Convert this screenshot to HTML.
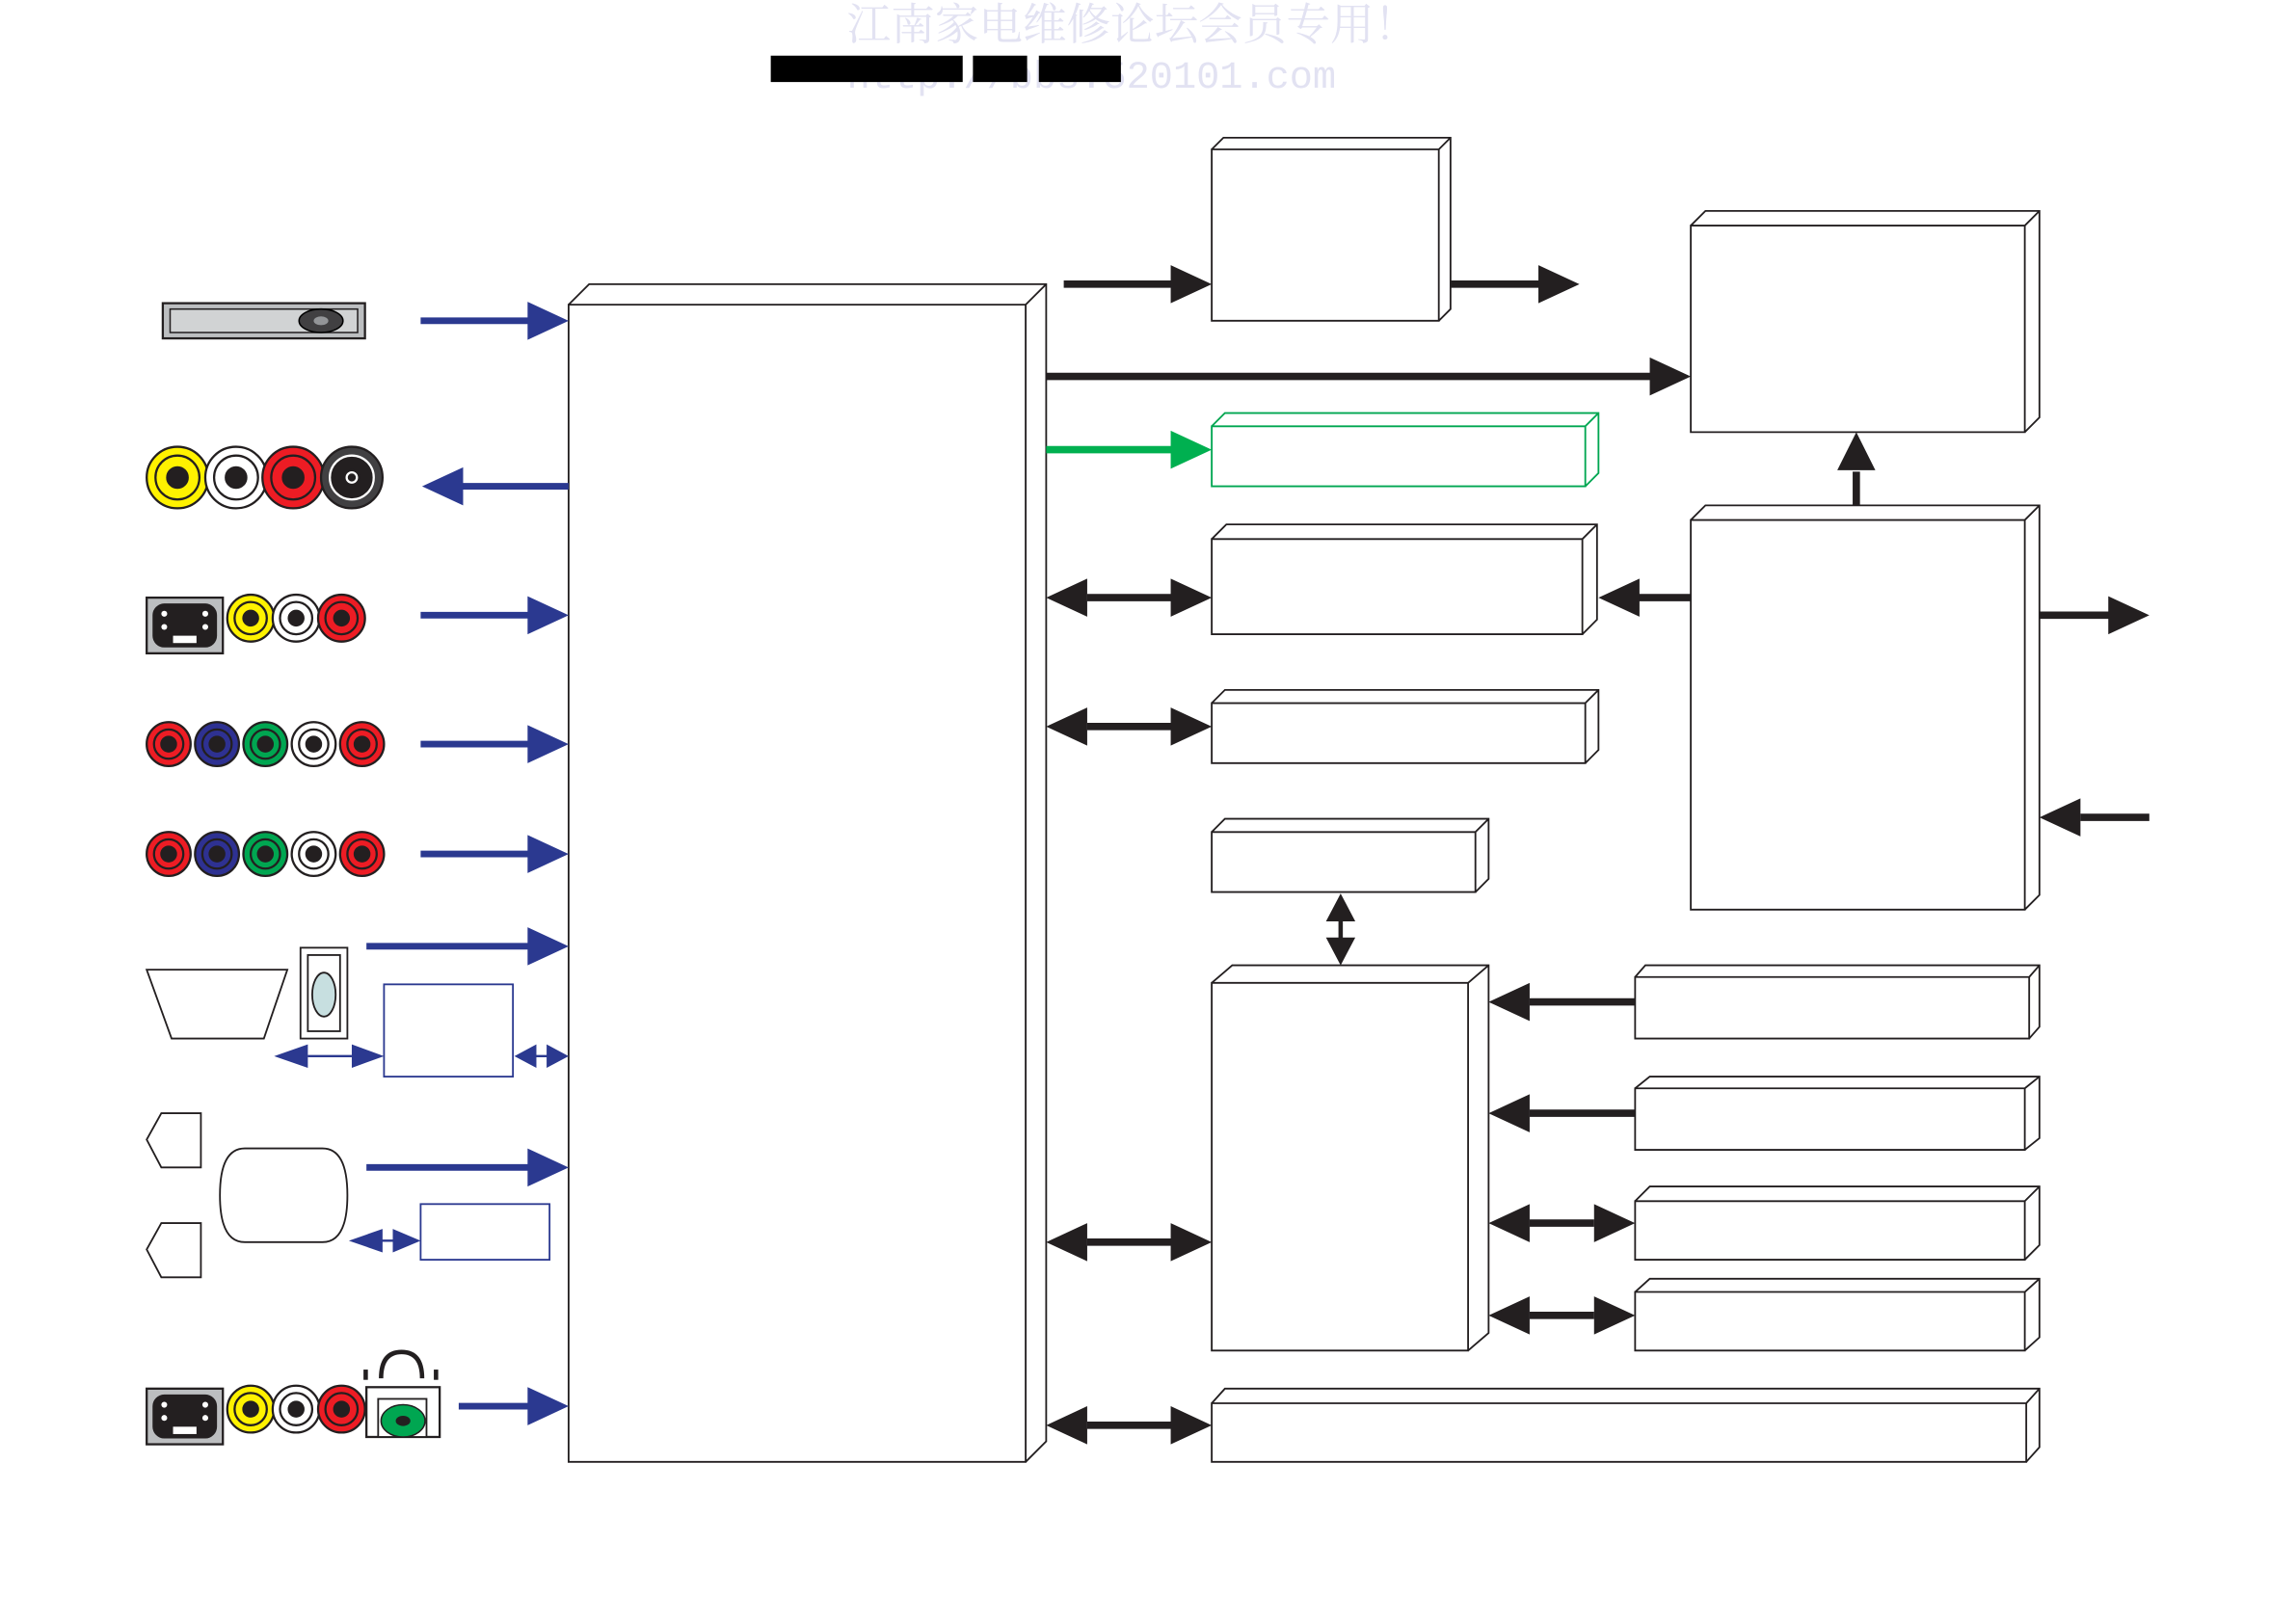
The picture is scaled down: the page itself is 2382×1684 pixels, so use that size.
<!DOCTYPE html>
<html><head><meta charset="utf-8"><style>html,body{margin:0;padding:0;background:#fff}svg{display:block}</style></head><body>
<svg width="2382" height="1684" viewBox="0 0 1567 1108" xmlns="http://www.w3.org/2000/svg">
<rect width="1567" height="1108" fill="#fff"/>
<text x="578" y="27" font-family="'Liberation Serif','Noto Serif CJK SC',serif" font-size="30" fill="#e2e2f2">江南家电维修论坛会员专用！</text>
<text x="578" y="60" font-family="'Liberation Mono',monospace" font-size="26.5" fill="#e2e2f2">http://bbs.520101.com</text>
<rect x="526" y="38" width="131" height="18" fill="#000"/>
<rect x="664" y="38" width="37" height="18" fill="#000"/>
<rect x="709" y="38" width="56" height="18" fill="#000"/>

<g fill="#fff" stroke="#231f20" stroke-width="1.2">
<path d="M388 208h312v790h-312z M388 208l14-14h312v790l-14 14 M700 208l14-14"/>
<path d="M827 102h155v117h-155z M827 102l8-8h155v117l-8 8 M982 102l8-8"/>
<path d="M1154 154h228v141h-228z M1154 154l10-10h228v141l-10 10 M1382 154l10-10"/>
<path d="M827 368h253v65h-253z M827 368l10-10h253v65l-10 10 M1080 368l10-10"/>
<path d="M827 480h255v41h-255z M827 480l9-9h255v41l-9 9 M1082 480l9-9"/>
<path d="M827 568h180v41h-180z M827 568l9-9h180v41l-9 9 M1007 568l9-9"/>
<path d="M1154 355h228v266h-228z M1154 355l10-10h228v266l-10 10 M1382 355l10-10"/>
<path d="M827 671h175v251h-175z M827 671l14-12h175v251l-14 12 M1002 671l14-12"/>
<path d="M1116 667h269v42h-269z M1116 667l7-8h269v42l-7 8 M1385 667l7-8"/>
<path d="M1116 743h266v42h-266z M1116 743l10-8h266v42l-10 8 M1382 743l10-8"/>
<path d="M1116 820h266v40h-266z M1116 820l10-10h266v40l-10 10 M1382 820l10-10"/>
<path d="M1116 882h266v40h-266z M1116 882l10-9h266v40l-10 9 M1382 882l10-9"/>
<path d="M827 958h556v40h-556z M827 958l9-10h556v40l-9 10 M1383 958l9-10"/>
</g>
<path d="M827 291h255v41h-255z M827 291l9-9h255v41l-9 9 M1082 291l9-9" fill="#fff" stroke="#00a651" stroke-width="1.2"/>

<g stroke="#231f20" stroke-width="5" fill="none">
<path d="M726 194H800 M990 194H1052 M714 257H1128 M742 408H800 M1118 408H1154 M742 496H800 M1267 345V322 M1392 420H1440 M1420 558H1467 M1044 684H1116 M1044 760H1116 M1044 835H1088 M1044 898H1088 M742 848H800 M742 973H800"/>
<path d="M915 628V642" stroke-width="3"/>
</g>
<g fill="#231f20">
<polygon points="827,194 799,181 799,207"/><polygon points="1078,194 1050,181 1050,207"/>
<polygon points="1154,257 1126,244 1126,270"/>
<polygon points="827,408 799,395 799,421"/><polygon points="714,408 742,395 742,421"/>
<polygon points="1091,408 1119,395 1119,421"/>
<polygon points="827,496 799,483 799,509"/><polygon points="714,496 742,483 742,509"/>
<polygon points="1267,295 1254,321 1280,321"/>
<polygon points="1467,420 1439,407 1439,433"/><polygon points="1392,558 1420,545 1420,571"/>
<polygon points="1016,684 1044,671 1044,697"/><polygon points="1016,760 1044,747 1044,773"/>
<polygon points="1016,835 1044,822 1044,848"/><polygon points="1116,835 1088,822 1088,848"/>
<polygon points="1016,898 1044,885 1044,911"/><polygon points="1116,898 1088,885 1088,911"/>
<polygon points="714,848 742,835 742,861"/><polygon points="827,848 799,835 799,861"/>
<polygon points="714,973 742,960 742,986"/><polygon points="827,973 799,960 799,986"/>
<polygon points="915,610 905,629 925,629"/><polygon points="915,659 905,640 925,640"/>
</g>
<path d="M714 307H800" stroke="#00b050" stroke-width="5"/>
<polygon points="827,307 799,294 799,320" fill="#00b050"/>

<g stroke="#2b3990" stroke-width="4.5" fill="none">
<path d="M287 219H361 M314 332H388 M287 420H361 M287 508H361 M287 583H361 M250 646H361 M250 797H361 M313 960H361"/>
<path d="M210 721H240 M362 721H374 M255 847H272" stroke-width="1.5"/>
</g>
<g fill="#2b3990">
<polygon points="388,219 360,206 360,232"/><polygon points="288,332 316,319 316,345"/>
<polygon points="388,420 360,407 360,433"/><polygon points="388,508 360,495 360,521"/>
<polygon points="388,583 360,570 360,596"/><polygon points="388,646 360,633 360,659"/>
<polygon points="388,797 360,784 360,810"/><polygon points="388,960 360,947 360,973"/>
<polygon points="187,721 210,713 210,729"/><polygon points="262,721 240,713 240,729"/>
<polygon points="351,721 366,713 366,729"/><polygon points="388,721 373,713 373,729"/>
<polygon points="238,847 261,839 261,855"/><polygon points="287,847 268,839 268,855"/>
</g>
<g fill="#fff" stroke="#2b3990" stroke-width="1.2">
<rect x="262" y="672" width="88" height="63"/><rect x="287" y="822" width="88" height="38"/>
</g>

<rect x="111" y="207" width="138" height="24" fill="#bcbec0" stroke="#231f20" stroke-width="1.5"/>
<rect x="116" y="211" width="128" height="16" fill="#d1d3d4" stroke="#231f20" stroke-width="1"/>
<ellipse cx="219" cy="219" rx="15" ry="8" fill="#414042" stroke="#000"/><ellipse cx="219" cy="219" rx="5" ry="3" fill="#939598"/>

<g stroke="#231f20" stroke-width="1.5">
<circle cx="121" cy="326" r="21" fill="#fff200"/><circle cx="121" cy="326" r="15" fill="#fff200"/><circle cx="121" cy="326" r="7" fill="#231f20"/>
<circle cx="161" cy="326" r="21" fill="#fff"/><circle cx="161" cy="326" r="15" fill="#fff"/><circle cx="161" cy="326" r="7" fill="#231f20"/>
<circle cx="200" cy="326" r="21" fill="#ed1c24"/><circle cx="200" cy="326" r="15" fill="#ed1c24"/><circle cx="200" cy="326" r="7" fill="#231f20"/>
<circle cx="240" cy="326" r="21" fill="#414042"/><circle cx="240" cy="326" r="15" fill="#231f20" stroke="#fff"/><circle cx="240" cy="326" r="5" fill="#fff"/><circle cx="240" cy="326" r="2" fill="#231f20"/>
</g>

<g>
<rect x="100" y="408" width="52" height="38" fill="#bcbec0" stroke="#231f20" stroke-width="1.5"/>
<rect x="104" y="412" width="44" height="30" rx="8" fill="#231f20"/>
<circle cx="112" cy="419" r="2" fill="#fff"/><circle cx="140" cy="419" r="2" fill="#fff"/><circle cx="112" cy="428" r="2" fill="#fff"/><circle cx="140" cy="428" r="2" fill="#fff"/>
<rect x="118" y="434" width="16" height="5" fill="#fff"/>
</g>
<g stroke="#231f20" stroke-width="1.5">
<circle cx="171" cy="422" r="16" fill="#fff200"/><circle cx="171" cy="422" r="11" fill="#fff200"/><circle cx="171" cy="422" r="5" fill="#231f20"/>
<circle cx="202" cy="422" r="16" fill="#fff"/><circle cx="202" cy="422" r="11" fill="#fff"/><circle cx="202" cy="422" r="5" fill="#231f20"/>
<circle cx="233" cy="422" r="16" fill="#ed1c24"/><circle cx="233" cy="422" r="11" fill="#ed1c24"/><circle cx="233" cy="422" r="5" fill="#231f20"/>
</g>

<g stroke="#231f20" stroke-width="1.5">
<circle cx="115" cy="508" r="15" fill="#ed1c24"/><circle cx="115" cy="508" r="10" fill="#ed1c24"/><circle cx="115" cy="508" r="5" fill="#231f20"/>
<circle cx="148" cy="508" r="15" fill="#2e3192"/><circle cx="148" cy="508" r="10" fill="#2e3192"/><circle cx="148" cy="508" r="5" fill="#231f20"/>
<circle cx="181" cy="508" r="15" fill="#00a651"/><circle cx="181" cy="508" r="10" fill="#00a651"/><circle cx="181" cy="508" r="5" fill="#231f20"/>
<circle cx="214" cy="508" r="15" fill="#fff"/><circle cx="214" cy="508" r="10" fill="#fff"/><circle cx="214" cy="508" r="5" fill="#231f20"/>
<circle cx="247" cy="508" r="15" fill="#ed1c24"/><circle cx="247" cy="508" r="10" fill="#ed1c24"/><circle cx="247" cy="508" r="5" fill="#231f20"/>
<circle cx="115" cy="583" r="15" fill="#ed1c24"/><circle cx="115" cy="583" r="10" fill="#ed1c24"/><circle cx="115" cy="583" r="5" fill="#231f20"/>
<circle cx="148" cy="583" r="15" fill="#2e3192"/><circle cx="148" cy="583" r="10" fill="#2e3192"/><circle cx="148" cy="583" r="5" fill="#231f20"/>
<circle cx="181" cy="583" r="15" fill="#00a651"/><circle cx="181" cy="583" r="10" fill="#00a651"/><circle cx="181" cy="583" r="5" fill="#231f20"/>
<circle cx="214" cy="583" r="15" fill="#fff"/><circle cx="214" cy="583" r="10" fill="#fff"/><circle cx="214" cy="583" r="5" fill="#231f20"/>
<circle cx="247" cy="583" r="15" fill="#ed1c24"/><circle cx="247" cy="583" r="10" fill="#ed1c24"/><circle cx="247" cy="583" r="5" fill="#231f20"/>
</g>

<g fill="#fff" stroke="#231f20" stroke-width="1.2">
<polygon points="100,662 196,662 180,709 117,709"/>
<rect x="205" y="647" width="32" height="62"/><rect x="210" y="652" width="22" height="52"/>
<ellipse cx="221" cy="679" rx="8" ry="15" fill="#c7dfe0"/>
<polygon points="110,760 137,760 137,797 110,797 100,778"/>
<polygon points="110,835 137,835 137,872 110,872 100,853"/>
<path d="M167 784H220Q237 784 237 816Q237 848 220 848H167Q150 848 150 816Q150 784 167 784Z"/>
</g>

<g transform="translate(0,540)">
<rect x="100" y="408" width="52" height="38" fill="#bcbec0" stroke="#231f20" stroke-width="1.5"/>
<rect x="104" y="412" width="44" height="30" rx="8" fill="#231f20"/>
<circle cx="112" cy="419" r="2" fill="#fff"/><circle cx="140" cy="419" r="2" fill="#fff"/><circle cx="112" cy="428" r="2" fill="#fff"/><circle cx="140" cy="428" r="2" fill="#fff"/>
<rect x="118" y="434" width="16" height="5" fill="#fff"/>
<g stroke="#231f20" stroke-width="1.5">
<circle cx="171" cy="422" r="16" fill="#fff200"/><circle cx="171" cy="422" r="11" fill="#fff200"/><circle cx="171" cy="422" r="5" fill="#231f20"/>
<circle cx="202" cy="422" r="16" fill="#fff"/><circle cx="202" cy="422" r="11" fill="#fff"/><circle cx="202" cy="422" r="5" fill="#231f20"/>
<circle cx="233" cy="422" r="16" fill="#ed1c24"/><circle cx="233" cy="422" r="11" fill="#ed1c24"/><circle cx="233" cy="422" r="5" fill="#231f20"/>
</g>
</g>
<rect x="250" y="947" width="50" height="34" fill="#fff" stroke="#231f20" stroke-width="1.5"/>
<rect x="258" y="955" width="33" height="26" fill="#fff" stroke="#231f20" stroke-width="1.2"/>
<ellipse cx="275" cy="970" rx="15" ry="11" fill="#00a651" stroke="#231f20"/><ellipse cx="275" cy="970" rx="5" ry="3.5" fill="#231f20"/>
<path d="M260 941Q260 923 274 923Q288 923 288 941" fill="none" stroke="#231f20" stroke-width="3"/>
<rect x="248" y="935" width="3" height="7" fill="#231f20"/><rect x="296" y="935" width="3" height="7" fill="#231f20"/>
</svg>
</body></html>
